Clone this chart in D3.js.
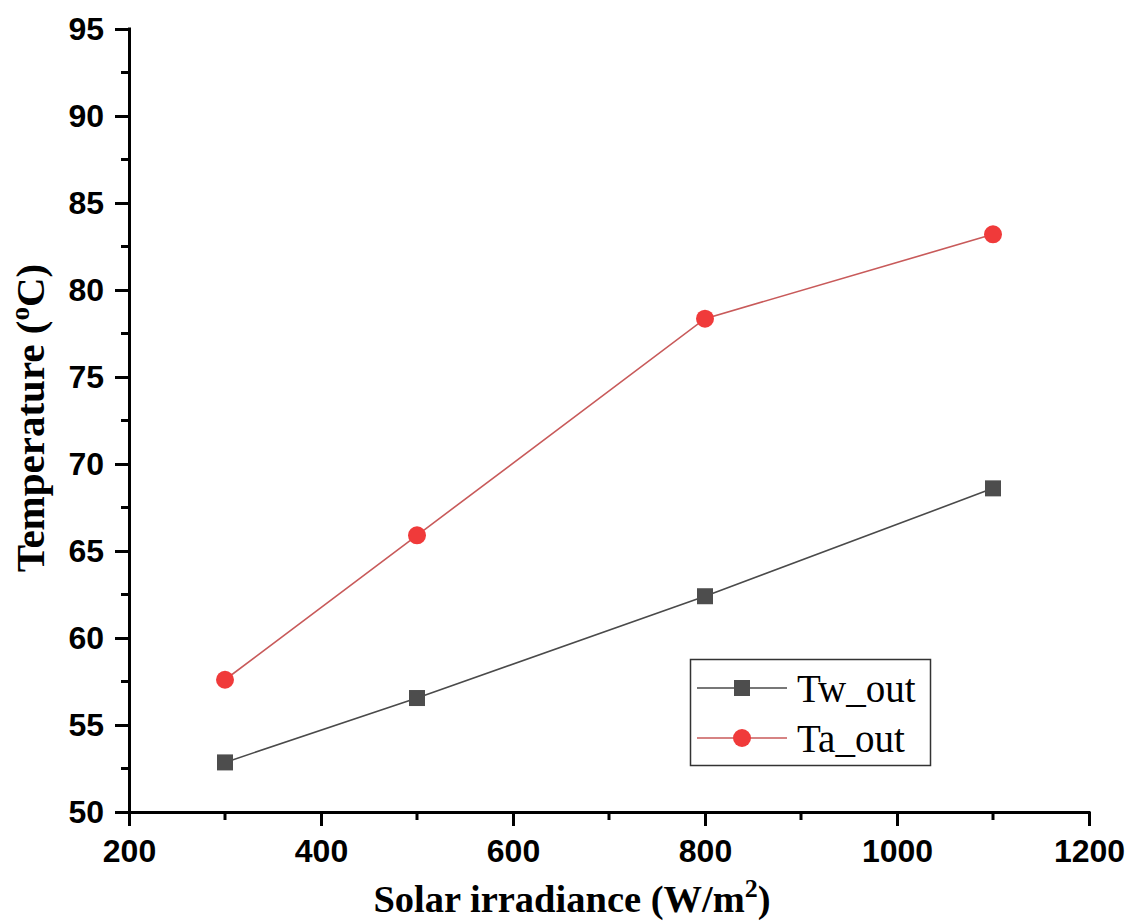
<!DOCTYPE html>
<html>
<head>
<meta charset="utf-8">
<script src="https://cdn.jsdelivr.net/npm/d3@7"></script>
<style>
  html, body { margin: 0; padding: 0; background: #fff; }
  svg { display: block; }
</style>
</head>
<body>
<svg id="chart" width="1134" height="923"></svg>
<script>
// Solar irradiance (W/m²) on the x axis
const irradiance = [300, 500, 800, 1100];
// Outlet temperatures (°C)
const twOut = [52.85, 56.55, 62.4, 68.6];
const taOut = [57.6, 65.9, 78.35, 83.2];
const seriesNames = ["Tw_out", "Ta_out"];
const xTicks = [200, 400, 600, 800, 1000, 1200];
const yTicks = [50, 55, 60, 65, 70, 75, 80, 85, 90, 95];

const svg = d3.select("#chart");
const plotLeft = 129, plotRight = 1089, plotTop = 29, plotBottom = 812;

const x = d3.scaleLinear().domain([200, 1200]).range([plotLeft, plotRight]);
const y = d3.scaleLinear().domain([50, 95]).range([plotBottom, plotTop]);

const axisColor = "#000";
const tickFont = "Liberation Sans, Arial, sans-serif";
const titleFont = "Liberation Serif, 'Times New Roman', serif";

// minor ticks
const xMinor = d3.range(300, 1200, 200);
const yMinor = d3.range(52.5, 95, 5);

svg.append("g").selectAll("line").data(xMinor).join("line")
  .attr("x1", d => x(d)).attr("x2", d => x(d))
  .attr("y1", plotBottom).attr("y2", plotBottom + 8)
  .attr("stroke", axisColor).attr("stroke-width", 3);
svg.append("g").selectAll("line").data(yMinor).join("line")
  .attr("x1", plotLeft - 8).attr("x2", plotLeft)
  .attr("y1", d => y(d)).attr("y2", d => y(d))
  .attr("stroke", axisColor).attr("stroke-width", 3);

// x axis
const xAxis = svg.append("g")
  .attr("transform", `translate(0,${plotBottom})`)
  .call(d3.axisBottom(x).tickValues(xTicks).tickFormat(d3.format("d"))
    .tickSize(14).tickPadding(13).tickSizeOuter(0));
xAxis.select(".domain").attr("stroke-width", 3).attr("d", `M${plotLeft - 14},0.5H${plotRight + 1.5}`);
xAxis.selectAll(".tick line").attr("stroke-width", 3);
xAxis.selectAll(".tick text")
  .attr("font-family", tickFont)
  .attr("font-weight", "bold").attr("font-size", 32).attr("fill", "#000");

// y axis
const yAxis = svg.append("g")
  .attr("transform", `translate(${plotLeft},0)`)
  .call(d3.axisLeft(y).tickValues(yTicks).tickFormat(d3.format("d"))
    .tickSize(14).tickPadding(11).tickSizeOuter(0));
yAxis.select(".domain").attr("stroke-width", 3).attr("d", `M0.5,${plotTop - 1.5}V${plotBottom}`);
yAxis.selectAll(".tick line").attr("stroke-width", 3);
yAxis.selectAll(".tick text")
  .attr("font-family", tickFont)
  .attr("font-weight", "bold").attr("font-size", 32).attr("fill", "#000");

// axis titles
const xt = svg.append("text")
  .attr("x", 572).attr("y", 912)
  .attr("text-anchor", "middle")
  .attr("font-family", titleFont)
  .attr("font-weight", "bold").attr("font-size", 38.5).attr("fill", "#000");
xt.append("tspan").text("Solar irradiance (W/m");
xt.append("tspan").attr("dy", -15).attr("font-size", 26).text("2");
xt.append("tspan").attr("dy", 15).text(")");

const yt = svg.append("text")
  .attr("transform", `translate(44,418) rotate(-90)`)
  .attr("text-anchor", "middle")
  .attr("font-family", titleFont)
  .attr("font-weight", "bold").attr("font-size", 41).attr("fill", "#000");
yt.append("tspan").text("Temperature (");
yt.append("tspan").attr("dy", -15).attr("font-size", 27).text("o");
yt.append("tspan").attr("dy", 15).text("C)");

// series
const twData = irradiance.map((v, i) => ({ x: v, y: twOut[i] }));
const taData = irradiance.map((v, i) => ({ x: v, y: taOut[i] }));
const line = d3.line().x(d => x(d.x)).y(d => y(d.y));

const twColor = "#4d4d4d", twLine = "#4a4a4a";
const taColor = "#f03a3a", taLine = "#c85a5a";

svg.append("path").datum(twData).attr("d", line)
  .attr("fill", "none").attr("stroke", twLine).attr("stroke-width", 1.6);
svg.append("path").datum(taData).attr("d", line)
  .attr("fill", "none").attr("stroke", taLine).attr("stroke-width", 1.6);

const sq = 16;
svg.append("g").selectAll("rect").data(twData).join("rect")
  .attr("x", d => x(d.x) - sq / 2).attr("y", d => y(d.y) - sq / 2)
  .attr("width", sq).attr("height", sq).attr("fill", twColor);
svg.append("g").selectAll("circle").data(taData).join("circle")
  .attr("cx", d => x(d.x)).attr("cy", d => y(d.y)).attr("r", 9)
  .attr("fill", taColor);

// legend
const lg = svg.append("g");
lg.append("rect").attr("x", 690.5).attr("y", 659.5).attr("width", 240).attr("height", 106)
  .attr("fill", "#fff").attr("stroke", "#333").attr("stroke-width", 1.5);
const rows = [
  { name: seriesNames[0], stroke: twLine, fill: twColor, shape: "square", cy: 688 },
  { name: seriesNames[1], stroke: taLine, fill: taColor, shape: "circle", cy: 738 }
];
rows.forEach(r => {
  lg.append("line").attr("x1", 697).attr("x2", 787).attr("y1", r.cy).attr("y2", r.cy)
    .attr("stroke", r.stroke).attr("stroke-width", 1.6);
  if (r.shape === "square") {
    lg.append("rect").attr("x", 742 - sq / 2).attr("y", r.cy - sq / 2)
      .attr("width", sq).attr("height", sq).attr("fill", r.fill);
  } else {
    lg.append("circle").attr("cx", 742).attr("cy", r.cy).attr("r", 9).attr("fill", r.fill);
  }
  lg.append("text").attr("x", 797).attr("y", r.cy + 14)
    .attr("font-family", titleFont)
    .attr("font-size", 39).attr("fill", "#000").text(r.name);
});
</script>
</body>
</html>
